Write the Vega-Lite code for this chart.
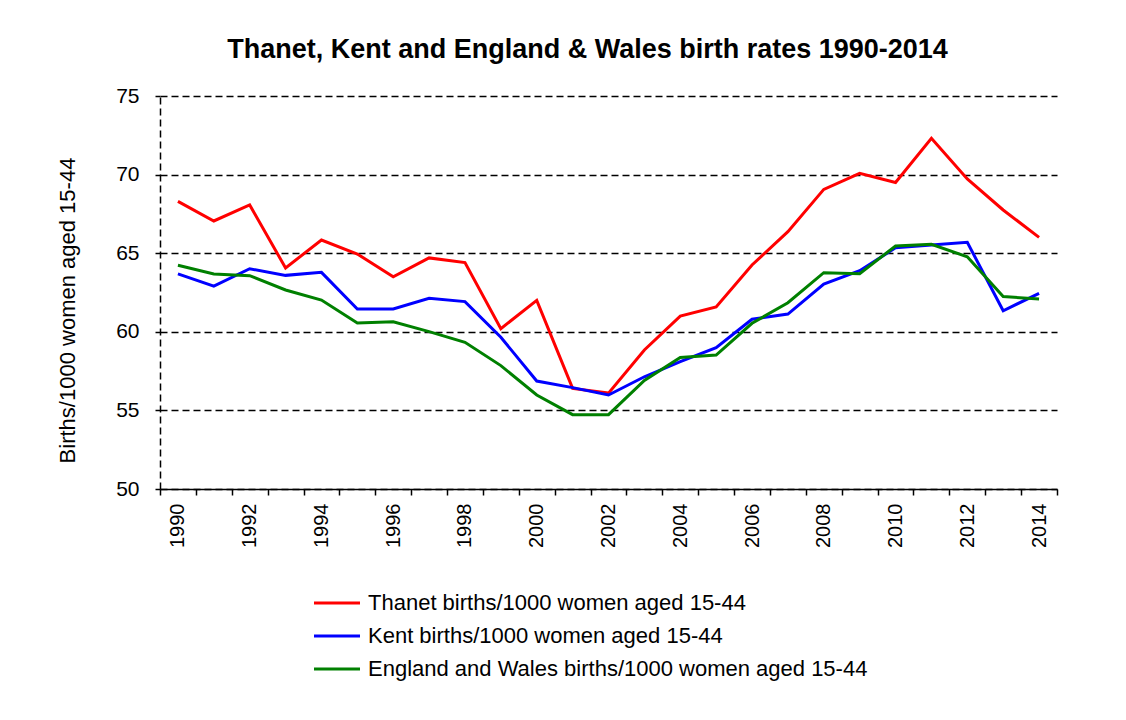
{
  "$schema": "https://vega.github.io/schema/vega-lite/v6.json",
  "width": 897,
  "height": 393,
  "autosize": "none",
  "padding": {"left": 160, "top": 96, "right": 69, "bottom": 231},
  "background": "white",
  "config": {"view": {"stroke": null}, "font": "Liberation Sans"},
  "title": {"text": "Thanet, Kent and England & Wales birth rates 1990-2014", "fontSize": 27, "font": "Liberation Sans", "fontWeight": "bold", "color": "black", "anchor": "middle", "dx": -21, "offset": 21},
  "datasets": {
    "rates": [
      {"year": 1990, "series": "Thanet births/1000 women aged 15-44", "rate": 68.3},
      {"year": 1991, "series": "Thanet births/1000 women aged 15-44", "rate": 67.05},
      {"year": 1992, "series": "Thanet births/1000 women aged 15-44", "rate": 68.07},
      {"year": 1993, "series": "Thanet births/1000 women aged 15-44", "rate": 64.06},
      {"year": 1994, "series": "Thanet births/1000 women aged 15-44", "rate": 65.84},
      {"year": 1995, "series": "Thanet births/1000 women aged 15-44", "rate": 64.95},
      {"year": 1996, "series": "Thanet births/1000 women aged 15-44", "rate": 63.5},
      {"year": 1997, "series": "Thanet births/1000 women aged 15-44", "rate": 64.7},
      {"year": 1998, "series": "Thanet births/1000 women aged 15-44", "rate": 64.4},
      {"year": 1999, "series": "Thanet births/1000 women aged 15-44", "rate": 60.2},
      {"year": 2000, "series": "Thanet births/1000 women aged 15-44", "rate": 62.0},
      {"year": 2001, "series": "Thanet births/1000 women aged 15-44", "rate": 56.4},
      {"year": 2002, "series": "Thanet births/1000 women aged 15-44", "rate": 56.1},
      {"year": 2003, "series": "Thanet births/1000 women aged 15-44", "rate": 58.84},
      {"year": 2004, "series": "Thanet births/1000 women aged 15-44", "rate": 61.0},
      {"year": 2005, "series": "Thanet births/1000 women aged 15-44", "rate": 61.58},
      {"year": 2006, "series": "Thanet births/1000 women aged 15-44", "rate": 64.25},
      {"year": 2007, "series": "Thanet births/1000 women aged 15-44", "rate": 66.37},
      {"year": 2008, "series": "Thanet births/1000 women aged 15-44", "rate": 69.06},
      {"year": 2009, "series": "Thanet births/1000 women aged 15-44", "rate": 70.08},
      {"year": 2010, "series": "Thanet births/1000 women aged 15-44", "rate": 69.5},
      {"year": 2011, "series": "Thanet births/1000 women aged 15-44", "rate": 72.31},
      {"year": 2012, "series": "Thanet births/1000 women aged 15-44", "rate": 69.72},
      {"year": 2013, "series": "Thanet births/1000 women aged 15-44", "rate": 67.75},
      {"year": 2014, "series": "Thanet births/1000 women aged 15-44", "rate": 66.01},
      {"year": 1990, "series": "Kent births/1000 women aged 15-44", "rate": 63.68},
      {"year": 1991, "series": "Kent births/1000 women aged 15-44", "rate": 62.91},
      {"year": 1992, "series": "Kent births/1000 women aged 15-44", "rate": 64.01},
      {"year": 1993, "series": "Kent births/1000 women aged 15-44", "rate": 63.59},
      {"year": 1994, "series": "Kent births/1000 women aged 15-44", "rate": 63.78},
      {"year": 1995, "series": "Kent births/1000 women aged 15-44", "rate": 61.45},
      {"year": 1996, "series": "Kent births/1000 women aged 15-44", "rate": 61.45},
      {"year": 1997, "series": "Kent births/1000 women aged 15-44", "rate": 62.13},
      {"year": 1998, "series": "Kent births/1000 women aged 15-44", "rate": 61.92},
      {"year": 1999, "series": "Kent births/1000 women aged 15-44", "rate": 59.65},
      {"year": 2000, "series": "Kent births/1000 women aged 15-44", "rate": 56.87},
      {"year": 2001, "series": "Kent births/1000 women aged 15-44", "rate": 56.45},
      {"year": 2002, "series": "Kent births/1000 women aged 15-44", "rate": 55.98},
      {"year": 2003, "series": "Kent births/1000 women aged 15-44", "rate": 57.14},
      {"year": 2004, "series": "Kent births/1000 women aged 15-44", "rate": 58.1},
      {"year": 2005, "series": "Kent births/1000 women aged 15-44", "rate": 58.99},
      {"year": 2006, "series": "Kent births/1000 women aged 15-44", "rate": 60.8},
      {"year": 2007, "series": "Kent births/1000 women aged 15-44", "rate": 61.13},
      {"year": 2008, "series": "Kent births/1000 women aged 15-44", "rate": 63.04},
      {"year": 2009, "series": "Kent births/1000 women aged 15-44", "rate": 63.89},
      {"year": 2010, "series": "Kent births/1000 women aged 15-44", "rate": 65.34},
      {"year": 2011, "series": "Kent births/1000 women aged 15-44", "rate": 65.52},
      {"year": 2012, "series": "Kent births/1000 women aged 15-44", "rate": 65.69},
      {"year": 2013, "series": "Kent births/1000 women aged 15-44", "rate": 61.34},
      {"year": 2014, "series": "Kent births/1000 women aged 15-44", "rate": 62.45},
      {"year": 1990, "series": "England and Wales births/1000 women aged 15-44", "rate": 64.23},
      {"year": 1991, "series": "England and Wales births/1000 women aged 15-44", "rate": 63.68},
      {"year": 1992, "series": "England and Wales births/1000 women aged 15-44", "rate": 63.57},
      {"year": 1993, "series": "England and Wales births/1000 women aged 15-44", "rate": 62.66},
      {"year": 1994, "series": "England and Wales births/1000 women aged 15-44", "rate": 62.02},
      {"year": 1995, "series": "England and Wales births/1000 women aged 15-44", "rate": 60.56},
      {"year": 1996, "series": "England and Wales births/1000 women aged 15-44", "rate": 60.64},
      {"year": 1997, "series": "England and Wales births/1000 women aged 15-44", "rate": 60.01},
      {"year": 1998, "series": "England and Wales births/1000 women aged 15-44", "rate": 59.33},
      {"year": 1999, "series": "England and Wales births/1000 women aged 15-44", "rate": 57.85},
      {"year": 2000, "series": "England and Wales births/1000 women aged 15-44", "rate": 55.98},
      {"year": 2001, "series": "England and Wales births/1000 women aged 15-44", "rate": 54.73},
      {"year": 2002, "series": "England and Wales births/1000 women aged 15-44", "rate": 54.73},
      {"year": 2003, "series": "England and Wales births/1000 women aged 15-44", "rate": 56.9},
      {"year": 2004, "series": "England and Wales births/1000 women aged 15-44", "rate": 58.37},
      {"year": 2005, "series": "England and Wales births/1000 women aged 15-44", "rate": 58.52},
      {"year": 2006, "series": "England and Wales births/1000 women aged 15-44", "rate": 60.54},
      {"year": 2007, "series": "England and Wales births/1000 women aged 15-44", "rate": 61.85},
      {"year": 2008, "series": "England and Wales births/1000 women aged 15-44", "rate": 63.76},
      {"year": 2009, "series": "England and Wales births/1000 women aged 15-44", "rate": 63.7},
      {"year": 2010, "series": "England and Wales births/1000 women aged 15-44", "rate": 65.46},
      {"year": 2011, "series": "England and Wales births/1000 women aged 15-44", "rate": 65.57},
      {"year": 2012, "series": "England and Wales births/1000 women aged 15-44", "rate": 64.77},
      {"year": 2013, "series": "England and Wales births/1000 women aged 15-44", "rate": 62.24},
      {"year": 2014, "series": "England and Wales births/1000 women aged 15-44", "rate": 62.09}
    ]
  },
  "data": {"name": "rates"},
  "mark": {"type": "line", "strokeWidth": 3},
  "encoding": {
    "x": {
      "field": "year", "type": "ordinal", "bandPosition": 0.5,
      "scale": {"type": "band", "paddingInner": 0, "paddingOuter": 0},
      "axis": {
        "title": null, "labelAngle": -90, "labelFontSize": 20, "labelFont": "Liberation Sans", "labelColor": "black",
        "labelExpr": "datum.value % 2 == 0 ? datum.label : ''", "labelOverlap": false,
        "tickBand": "extent", "tickSize": 6, "tickColor": "black", "tickWidth": 1.5,
        "domainColor": "black", "domainWidth": 1.5, "labelPadding": 8, "grid": false
      }
    },
    "y": {
      "field": "rate", "type": "quantitative",
      "scale": {"domain": [50, 75], "nice": false, "zero": false},
      "axis": {
        "title": "Births/1000 women aged 15-44", "values": [50, 55, 60, 65, 70, 75],
        "grid": true, "gridDash": [7, 4], "gridColor": "black", "gridWidth": 1.5, "gridOpacity": 1,
        "domainDash": [7, 4], "domainColor": "black", "domainWidth": 1.5,
        "tickColor": "black", "tickSize": 5, "tickWidth": 1.5,
        "labelFontSize": 21, "labelFont": "Liberation Sans", "labelColor": "black", "labelPadding": 16,
        "titleFontSize": 22, "titleFont": "Liberation Sans", "titleFontWeight": "normal", "titleColor": "black",
        "titleAngle": -90, "titleAlign": "center", "titleBaseline": "middle", "titleX": -93, "titleY": 214
      }
    },
    "color": {
      "field": "series", "type": "nominal",
      "scale": {
        "domain": ["Thanet births/1000 women aged 15-44", "Kent births/1000 women aged 15-44", "England and Wales births/1000 women aged 15-44"],
        "range": ["#FF0000", "#0000FF", "#008000"]
      },
      "legend": {
        "orient": "none", "legendX": 164, "legendY": 494, "title": null,
        "symbolType": "M-2,0H2", "symbolSize": 529, "symbolStrokeWidth": 3,
        "labelFontSize": 22, "labelFont": "Liberation Sans", "labelColor": "black",
        "labelOffset": 18, "rowPadding": 9, "labelLimit": 0
      }
    }
  }
}
